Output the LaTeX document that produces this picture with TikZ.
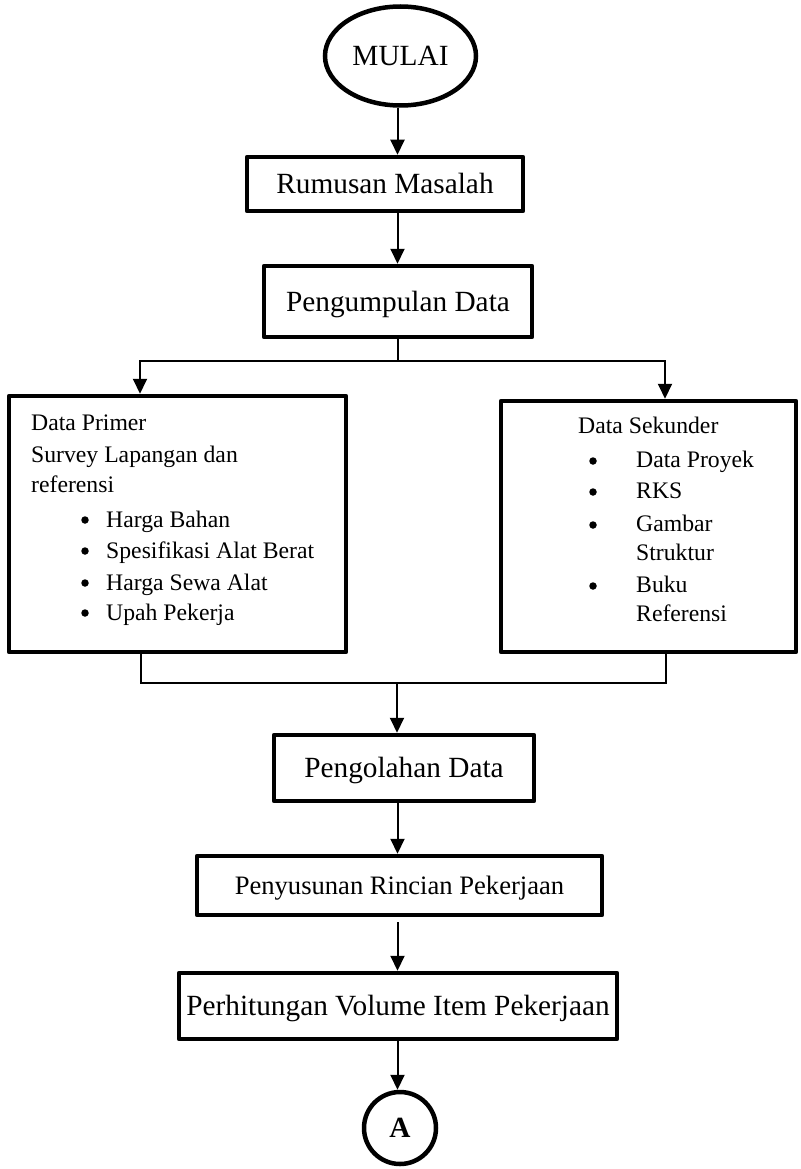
\documentclass[tikz,border=0pt]{standalone}
\usepackage{fontspec}
\setmainfont{Liberation Serif}
\usetikzlibrary{arrows.meta,shapes.geometric}
\begin{document}
\begin{tikzpicture}[x=1pt,y=-1pt,
  box/.style={draw,line width=4.5pt,line join=round,inner sep=0pt,align=center,text height=19.4pt,text depth=0pt},
  frame/.style={draw,line width=4.5pt,line join=round,inner sep=0pt},
  big/.style={font=\fontsize{29.3}{35}\selectfont},
  conn/.style={line width=2pt},
  arr/.style={conn,-{Triangle[length=15pt,width=14pt]}},
  txt/.style={anchor=base west,inner sep=0pt,font=\fontsize{23.7}{30}\selectfont},
  bul/.style={circle,fill,minimum size=7.5pt,inner sep=0pt}]

\useasboundingbox (0,0) rectangle (800,1169);
\coordinate (axis) at (397.5,0);

\node[ellipse,draw,line width=4.5pt,minimum width=151pt,minimum height=99pt,inner sep=0pt,big] (mulai) at (400.5,56) {MULAI};
\node[box,big,minimum width=276pt,minimum height=54pt] (rumusan) at (385,184) {Rumusan Masalah};
\node[box,big,minimum width=268pt,minimum height=71pt] (kumpul) at (398,301.5) {Pengumpulan Data};

\node[frame,minimum width=337pt,minimum height=256pt] (primer) at (177.5,524) {};
\node[frame,minimum width=295pt,minimum height=251pt] (sekunder) at (648.5,526.5) {};

% Data Primer text
\node[txt] (p1) at (31,430) {Data Primer};
\node[txt] (p2) at (31,462) {Survey Lapangan dan};
\node[txt] (p3) at (31,492) {referensi};
\node[bul] (pb1) at (85,520) {};
\node[bul] (pb2) at (85,551) {};
\node[bul] (pb3) at (85,583) {};
\node[bul] (pb4) at (85,613) {};
\node[txt] (pi1) at (106,527) {Harga Bahan};
\node[txt] (pi2) at (106,558) {Spesifikasi Alat Berat};
\node[txt] (pi3) at (106,590) {Harga Sewa Alat};
\node[txt] (pi4) at (106,620) {Upah Pekerja};

% Data Sekunder text
\node[txt] (s1) at (578,433) {Data Sekunder};
\node[bul] (sb1) at (593,461) {};
\node[bul] (sb2) at (593,492) {};
\node[bul] (sb3) at (593,525) {};
\node[bul] (sb4) at (593,586) {};
\node[txt] (si1) at (636,467) {Data Proyek};
\node[txt] (si2) at (636,498) {RKS};
\node[txt] (si3) at (636,531) {Gambar};
\node[txt] (si3b) at (636,560) {Struktur};
\node[txt] (si4) at (636,592) {Buku};
\node[txt] (si4b) at (636,621) {Referensi};

\node[box,big,minimum width=260pt,minimum height=66pt] (olah) at (404,768) {Pengolahan Data};
\node[box,font=\fontsize{26.6}{32}\selectfont,text height=17.6pt,minimum width=405pt,minimum height=59pt] (susun) at (399.5,885.5) {Penyusunan Rincian Pekerjaan};
\node[box,big,minimum width=438pt,minimum height=66pt] (hitung) at (398,1006) {Perhitungan Volume Item Pekerjaan};
\node[circle,draw,line width=4.5pt,minimum size=72pt,inner sep=0pt,font=\fontsize{29.3}{35}\selectfont\bfseries] (a) at (400,1128) {A};

% connectors
\coordinate (split) at (398,361);
\coordinate (pl) at (140,361);
\coordinate (pr) at (665,361);
\coordinate (ml) at (141,683);
\coordinate (mr) at (666,683);
\coordinate (merge) at (397,683);

\draw[arr] (mulai.south -| axis) -- (axis |- rumusan.north);
\draw[arr] (rumusan.south -| axis) -- (axis |- kumpul.north);
\draw[conn] (kumpul.south -| split) -- (split);
\draw[arr] (split) -- (pl) -- (pl |- primer.north);
\draw[arr] (split) -- (pr) -- (pr |- sekunder.north);
\draw[conn] (primer.south -| ml) -- (ml) -- (mr) -- (sekunder.south -| mr);
\draw[arr] (merge) -- (merge |- olah.north);
\draw[arr] (olah.south -| axis) -- (axis |- susun.north);
\draw[arr,shorten <=5pt] (susun.south -| axis) -- (axis |- hitung.north);
\draw[arr] (hitung.south -| axis) -- (axis |- a.north);
\end{tikzpicture}
\end{document}
